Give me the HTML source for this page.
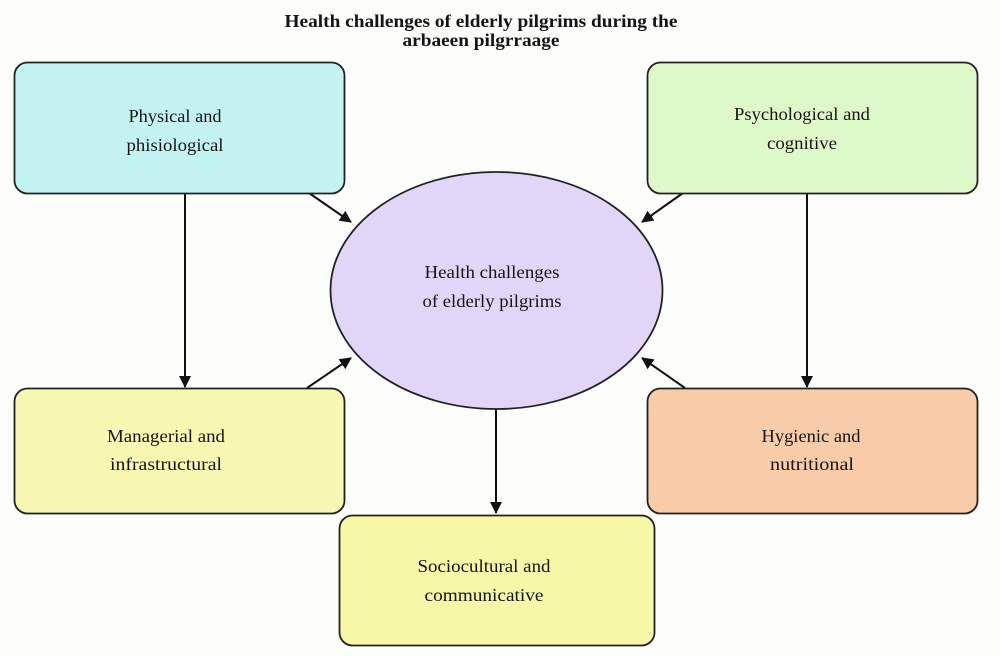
<!DOCTYPE html>
<html><head><meta charset="utf-8"><style>
html,body{margin:0;padding:0;background:#fdfdfc;}
svg{display:block;}
text{font-family:"Liberation Serif",serif;fill:#141414;}
.t{font-size:18px;}
.h{font-size:18px;font-weight:bold;}
</style></head><body>
<svg width="1000" height="656" viewBox="0 0 1000 656" xmlns="http://www.w3.org/2000/svg">
<defs>
<marker id="ah" viewBox="0 0 12 12" refX="11" refY="6" markerWidth="12" markerHeight="12" markerUnits="userSpaceOnUse" orient="auto">
<path d="M0,0 L12,6 L0,12 Z" fill="#111"/>
</marker>
</defs>
<rect width="1000" height="656" fill="#fdfdfc"/>
<text class="h" x="481" y="27" text-anchor="middle" textLength="393" lengthAdjust="spacingAndGlyphs">Health challenges of elderly pilgrims during the</text>
<text class="h" x="481" y="46" text-anchor="middle" textLength="157" lengthAdjust="spacingAndGlyphs">arbaeen pilgrraage</text>

<!-- connectors -->
<g stroke="#111" stroke-width="2" fill="none">
<line x1="185" y1="193" x2="185" y2="387" marker-end="url(#ah)"/>
<line x1="807" y1="193" x2="807" y2="387" marker-end="url(#ah)"/>
<line x1="496" y1="409" x2="496" y2="513" marker-end="url(#ah)"/>
<line x1="309" y1="193" x2="351" y2="222" marker-end="url(#ah)"/>
<line x1="683" y1="193" x2="642" y2="222" marker-end="url(#ah)"/>
<line x1="307" y1="388" x2="351" y2="358" marker-end="url(#ah)"/>
<line x1="685" y1="388" x2="642" y2="358" marker-end="url(#ah)"/>
</g>

<!-- boxes -->
<g stroke="#222" stroke-width="1.8">
<rect x="14.5" y="62.5" width="330" height="131" rx="13" fill="#c3f3f3"/>
<rect x="647.5" y="62.5" width="330" height="131" rx="13" fill="#dff8c8"/>
<rect x="14.5" y="388.5" width="330" height="125" rx="13" fill="#f7f8b2"/>
<rect x="647.5" y="388.5" width="330" height="125" rx="13" fill="#f9cca9"/>
<rect x="339.5" y="515.5" width="315" height="130" rx="13" fill="#f7f7a8"/>
<ellipse cx="496.5" cy="290.5" rx="166" ry="118.5" fill="#e2d6f8"/>
</g>

<!-- labels -->
<text class="t" x="175" y="122" text-anchor="middle" textLength="93" lengthAdjust="spacingAndGlyphs">Physical and</text>
<text class="t" x="175" y="151" text-anchor="middle" textLength="97" lengthAdjust="spacingAndGlyphs">phisiological</text>

<text class="t" x="802" y="120" text-anchor="middle" textLength="136" lengthAdjust="spacingAndGlyphs">Psychological and</text>
<text class="t" x="802" y="149" text-anchor="middle" textLength="70" lengthAdjust="spacingAndGlyphs">cognitive</text>

<text class="t" x="492" y="278" text-anchor="middle" textLength="135" lengthAdjust="spacingAndGlyphs">Health challenges</text>
<text class="t" x="492" y="307" text-anchor="middle" textLength="139" lengthAdjust="spacingAndGlyphs">of elderly pilgrims</text>

<text class="t" x="166" y="442" text-anchor="middle" textLength="118" lengthAdjust="spacingAndGlyphs">Managerial and</text>
<text class="t" x="166" y="470" text-anchor="middle" textLength="112" lengthAdjust="spacingAndGlyphs">infrastructural</text>

<text class="t" x="811" y="442" text-anchor="middle" textLength="99" lengthAdjust="spacingAndGlyphs">Hygienic and</text>
<text class="t" x="812" y="470" text-anchor="middle" textLength="84" lengthAdjust="spacingAndGlyphs">nutritional</text>

<text class="t" x="484" y="572" text-anchor="middle" textLength="133" lengthAdjust="spacingAndGlyphs">Sociocultural and</text>
<text class="t" x="484" y="601" text-anchor="middle" textLength="119" lengthAdjust="spacingAndGlyphs">communicative</text>
</svg>
</body></html>
